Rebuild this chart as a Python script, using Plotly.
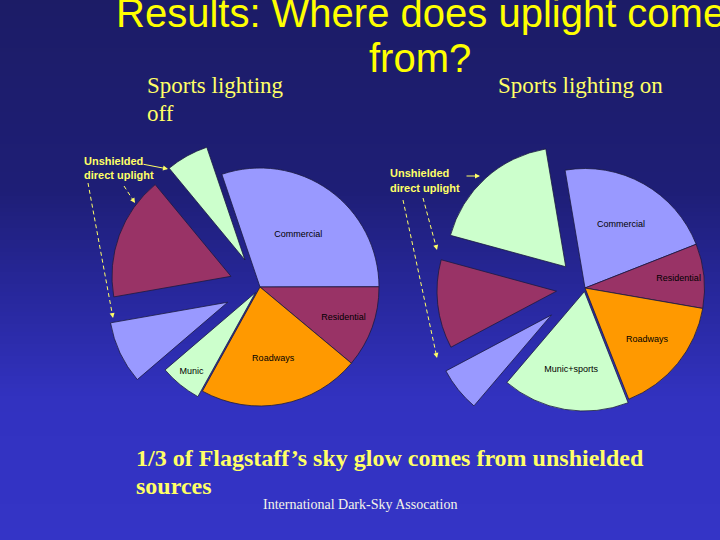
import math
import plotly.graph_objects as go

W, H = 720, 540

# ---------------- data ----------------
off_labels = ["Commercial", "Residential", "Roadways", "Munic",
              "Commercial (unshielded)", "Residential (unshielded)", "Munic (unshielded)"]
off_values = [30.2, 11.1, 22.0, 5.7, 8.5, 16.8, 5.8]
off_text = ["Commercial", "Residential", "Roadways", "Munic", "", "", ""]

on_labels = ["Commercial", "Residential", "Roadways", "Munic+sports",
             "Commercial (unshielded)", "Residential (unshielded)", "Munic+sports (unshielded)"]
on_values = [21.7, 8.7, 16.3, 17.2, 6.0, 12.0, 18.1]
on_text = ["Commercial", "Residential", "Roadways", "Munic+sports", "", "", ""]

slice_colors = ["#9999FF", "#993366", "#FF9900", "#CCFFCC", "#9999FF", "#993366", "#CCFFCC"]

# ---------------- style / layout ----------------
LEFT = dict(cx=260, cy=287, r=119, rot=-18.7, pulls=[0, 0, 0, 0.06, 0.30, 0.26, 0.26])
RIGHT = dict(cx=585, cy=288, r=119.5, rot=-9.6, pulls=[0, 0, 0, 0.03, 0.36, 0.24, 0.24])
CLEAR = "rgba(0,0,0,0)"
EDGE = "#1a1a40"

fig = go.Figure()


def domain_for(cx, cy, r):
    return dict(x=[(cx - r) / W, (cx + r) / W], y=[1 - (cy + r) / H, 1 - (cy - r) / H])


def add_pie(values, labels, texts, spec):
    n = len(values)
    total = sum(values)
    base = dict(values=values, labels=labels, sort=False, direction="clockwise",
                rotation=spec["rot"], textinfo="text", textposition="inside",
                insidetextorientation="horizontal", hoverinfo="skip", showlegend=False,
                insidetextfont=dict(family="Liberation Sans", size=9, color="black"))
    cols = [slice_colors[i] if spec["pulls"][i] == 0 else CLEAR for i in range(n)]
    lws = [0.8 if spec["pulls"][i] == 0 else 0 for i in range(n)]
    txt = [texts[i] if spec["pulls"][i] == 0 else "" for i in range(n)]
    fig.add_trace(go.Pie(**base, text=txt, marker=dict(colors=cols, line=dict(color=EDGE, width=lws)),
                         domain=domain_for(spec["cx"], spec["cy"], spec["r"])))
    cum = 0
    for i in range(n):
        v = values[i]
        mid = math.radians(spec["rot"] + (cum + v / 2) / total * 360)
        cum += v
        p = spec["pulls"][i]
        if p == 0:
            continue
        d = p * spec["r"]
        dx, dy = d * math.sin(mid), -d * math.cos(mid)
        cols = [slice_colors[j] if j == i else CLEAR for j in range(n)]
        lws = [0.8 if j == i else 0 for j in range(n)]
        txt = [texts[j] if j == i else "" for j in range(n)]
        fig.add_trace(go.Pie(**base, text=txt, marker=dict(colors=cols, line=dict(color=EDGE, width=lws)),
                             domain=domain_for(spec["cx"] + dx, spec["cy"] + dy, spec["r"])))


add_pie(off_values, off_labels, off_text, LEFT)
add_pie(on_values, on_labels, on_text, RIGHT)

# ---------------- background gradient ----------------
stops = [(0, (28, 28, 102)), (190, (30, 30, 118)), (300, (40, 40, 158)),
         (400, (50, 50, 192)), (540, (52, 52, 198))]


def grad(y):
    for (y0, c0), (y1, c1) in zip(stops[:-1], stops[1:]):
        if y0 <= y <= y1:
            t = (y - y0) / (y1 - y0)
            return "rgb(%d,%d,%d)" % tuple(round(a + (b - a) * t) for a, b in zip(c0, c1))
    return "rgb(52,52,198)"


shapes = []
step = 4
for y in range(0, H, step):
    shapes.append(dict(type="rect", xref="paper", yref="paper", layer="below",
                       x0=0, x1=1, y0=1 - (y + step + 0.5) / H, y1=1 - y / H,
                       line=dict(width=0), fillcolor=grad(y + step / 2)))

YEL = "#FFFF00"
PALE = "#FFFF66"


def px(x, y):
    return x / W, 1 - y / H


annotations = []


def note(text, x, y, size, family, color, xanchor="left", bold=False):
    if bold:
        text = "<b>%s</b>" % text
    xx, yy = px(x, y)
    annotations.append(dict(text=text, x=xx, y=yy, xref="paper", yref="paper",
                            xanchor=xanchor, yanchor="middle", showarrow=False,
                            font=dict(family=family, size=size, color=color)))


note("Results: Where does uplight come", 420, 13, 40, "Liberation Sans", YEL, "center")
note("from?", 420, 58, 40, "Liberation Sans", YEL, "center")
note("Sports lighting", 145, 85, 23, "Liberation Serif", PALE)
note("off", 145, 113, 23, "Liberation Serif", PALE)
note("Sports lighting on", 496, 85, 23, "Liberation Serif", PALE)
note("Unshielded", 82, 161, 11, "Liberation Sans", PALE, bold=True)
note("direct uplight", 82, 175, 11, "Liberation Sans", PALE, bold=True)
note("Unshielded", 388, 173, 11, "Liberation Sans", PALE, bold=True)
note("direct uplight", 388, 188, 11, "Liberation Sans", PALE, bold=True)
note("1/3 of Flagstaff\u2019s sky glow comes from unshielded", 134, 458, 24, "Liberation Serif", PALE, bold=True)
note("sources", 134, 486, 24, "Liberation Serif", PALE, bold=True)
note("International Dark-Sky Assocation", 261, 504, 14, "Liberation Serif", "#F4F4E8")

# arrows: (x0, y0, x1, y1, dashed)
arrows = [(142, 164, 168, 169, False), (124, 186, 135, 203, True), (88, 183, 113, 318, True),
          (465, 176, 480, 176, False), (423, 198, 437, 250, True), (403, 200, 437, 358, True)]
for x0, y0, x1, y1, dashed in arrows:
    L = math.hypot(x1 - x0, y1 - y0)
    ux, uy = (x1 - x0) / L, (y1 - y0) / L
    if dashed:
        a0, b0 = px(x0, y0)
        a1, b1 = px(x1 - ux * 3, y1 - uy * 3)
        shapes.append(dict(type="line", xref="paper", yref="paper", x0=a0, y0=b0, x1=a1, y1=b1,
                           line=dict(color=PALE, width=1, dash="4px,3px")))
        ax, ay = -ux * 6, -uy * 6
    else:
        ax, ay = x0 - x1, y0 - y1
    hx, hy = px(x1, y1)
    annotations.append(dict(text="", x=hx, y=hy, xref="paper", yref="paper", ax=ax, ay=ay,
                            showarrow=True, arrowhead=2, arrowsize=1, arrowwidth=1,
                            arrowcolor=PALE))

fig.update_layout(width=W, height=H, margin=dict(l=0, r=0, t=0, b=0),
                  paper_bgcolor="rgb(28,28,102)", plot_bgcolor="rgba(0,0,0,0)",
                  shapes=shapes, annotations=annotations, showlegend=False)

fig.write_html("out.html", config={"displayModeBar": False},
               post_script="document.body.style.margin='0';document.body.style.padding='0';"
                           "document.body.style.overflow='hidden';")
